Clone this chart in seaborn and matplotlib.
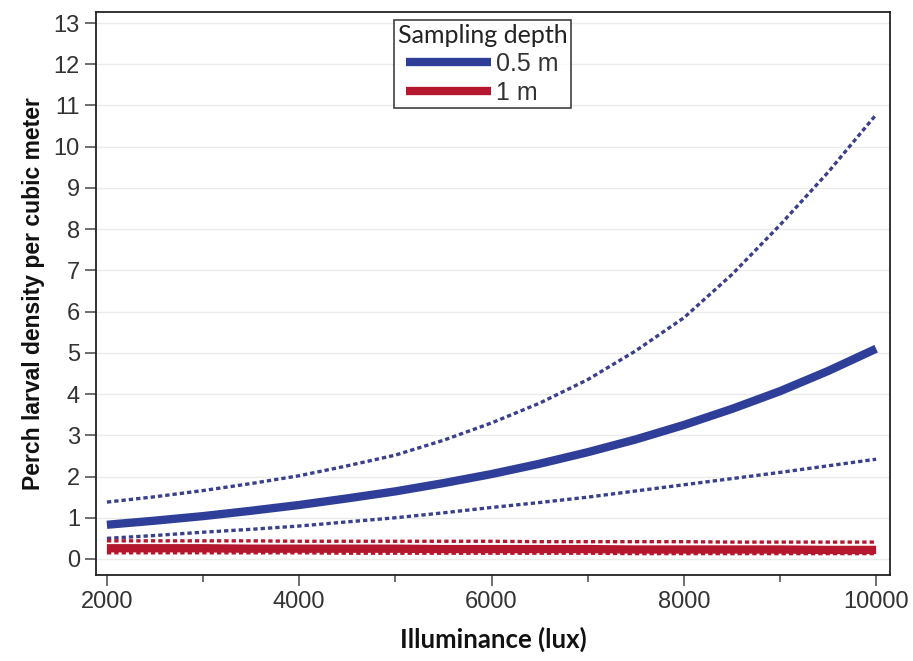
import pandas as pd
import numpy as np
import matplotlib.pyplot as plt
import seaborn as sns
from matplotlib.font_manager import FontProperties

# Values (lux vs. larvae per m3)
lux = [2000, 2500, 3000, 3500, 4000, 4500, 5000, 5500, 6000,
       6500, 7000, 7500, 8000, 8500, 9000, 9500, 10000]
shallow_fit = [0.83, 0.93, 1.04, 1.17, 1.31, 1.47, 1.64, 1.84, 2.06,
               2.31, 2.59, 2.90, 3.25, 3.64, 4.07, 4.56, 5.10]
shallow_upper = [1.38, 1.51, 1.66, 1.83, 2.02, 2.26, 2.52, 2.88, 3.30,
                 3.78, 4.35, 5.05, 5.85, 6.90, 8.10, 9.38, 10.78]
shallow_lower = [0.50, 0.57, 0.65, 0.72, 0.80, 0.90, 1.00, 1.12, 1.25,
                 1.37, 1.50, 1.65, 1.80, 1.95, 2.10, 2.26, 2.42]
deep_fit = [0.26, 0.26, 0.26, 0.25, 0.25, 0.25, 0.25, 0.24, 0.24,
            0.24, 0.24, 0.23, 0.23, 0.23, 0.23, 0.22, 0.22]
deep_upper = [0.44, 0.44, 0.44, 0.44, 0.43, 0.43, 0.43, 0.43, 0.43,
              0.42, 0.42, 0.42, 0.42, 0.41, 0.41, 0.41, 0.41]
deep_lower = [0.15, 0.15, 0.15, 0.15, 0.15, 0.14, 0.14, 0.14, 0.14,
              0.14, 0.14, 0.13, 0.13, 0.13, 0.13, 0.13, 0.13]

depths = ['0.5 m', '1 m']
farben = {'0.5 m': '#2F3F99', '1 m': '#B5182E'}
cl_farben = {'0.5 m': '#3B3F8C', '1 m': '#B5182E'}

df = pd.DataFrame({
    'lux': lux * 2,
    'fit': shallow_fit + deep_fit,
    'upper': shallow_upper + deep_upper,
    'lower': shallow_lower + deep_lower,
    'depth': [depths[0]] * len(lux) + [depths[1]] * len(lux),
})

sns.set_style('white')
plt.rcParams['font.family'] = ['Liberation Sans', 'DejaVu Sans']

fp_tick = FontProperties(family=['Liberation Sans', 'DejaVu Sans'], size=17)
fp_ylab = FontProperties(family=['Liberation Sans', 'DejaVu Sans'], size=16.5, weight='bold')
fp_xlab = FontProperties(family=['Lato', 'DejaVu Sans'], size=18.5, weight='bold')
fp_leg = FontProperties(family=['Liberation Sans', 'DejaVu Sans'], size=18)
fp_title = FontProperties(family=['Lato', 'DejaVu Sans'], size=18)

fig = plt.figure(figsize=(9.13, 6.61), dpi=100)
ax = fig.add_axes([0.105, 0.130, 0.870, 0.852])

# confidence limits (dotted)
for d in depths:
    sub = df[df['depth'] == d]
    for col in ['upper', 'lower']:
        sns.lineplot(data=sub, x='lux', y=col, ax=ax, color=cl_farben[d],
                     linewidth=2.4, legend=False)
        ax.lines[-1].set_dashes((1.3, 0.9))

# fitted curves
sns.lineplot(data=df, x='lux', y='fit', hue='depth', palette=farben,
             linewidth=6, ax=ax, solid_capstyle='butt', legend=False)

ax.set_xlim(1885, 10146)
ax.set_ylim(-0.39, 13.27)
ax.set_yticks(range(0, 14))
ax.set_yticklabels([str(v) for v in range(0, 14)], fontproperties=fp_tick, color='#333333')
ax.set_xticks([2000, 4000, 6000, 8000, 10000])
ax.set_xticklabels(['2000', '4000', '6000', '8000', '10000'], fontproperties=fp_tick,
                   color='#333333')
ax.set_xticks([3000, 5000, 7000, 9000], minor=True)
ax.yaxis.grid(True, color='#EBEBEB', linewidth=1)
ax.tick_params(axis='both', which='major', direction='out', length=8, width=1.2,
               color='#555555', left=True, bottom=True)
ax.tick_params(axis='x', which='minor', direction='out', length=5, width=1.2,
               color='#555555', bottom=True)
for s in ax.spines.values():
    s.set_color('#222222')
    s.set_linewidth(1.3)

ax.set_xlabel('Illuminance (lux)', fontproperties=fp_xlab, labelpad=10, color='#111111')
ax.set_ylabel('Perch larval density per cubic meter', fontproperties=fp_ylab,
              labelpad=6, color='#111111')

handles = ax.lines[-2:]
leg = ax.legend(handles, depths, title='Sampling depth', loc='upper center',
                bbox_to_anchor=(0.487, 0.986), prop=fp_leg, title_fontproperties=fp_title,
                frameon=True, fancybox=False, handlelength=3.4, handletextpad=0.2,
                borderpad=0.15, labelspacing=0.2, borderaxespad=0)
leg.get_frame().set_edgecolor('#111111')
leg.get_frame().set_linewidth(1.2)
for t in leg.get_texts():
    t.set_color('#333333')
leg.get_title().set_color('#222222')

fig.savefig('out.png', dpi=100)
